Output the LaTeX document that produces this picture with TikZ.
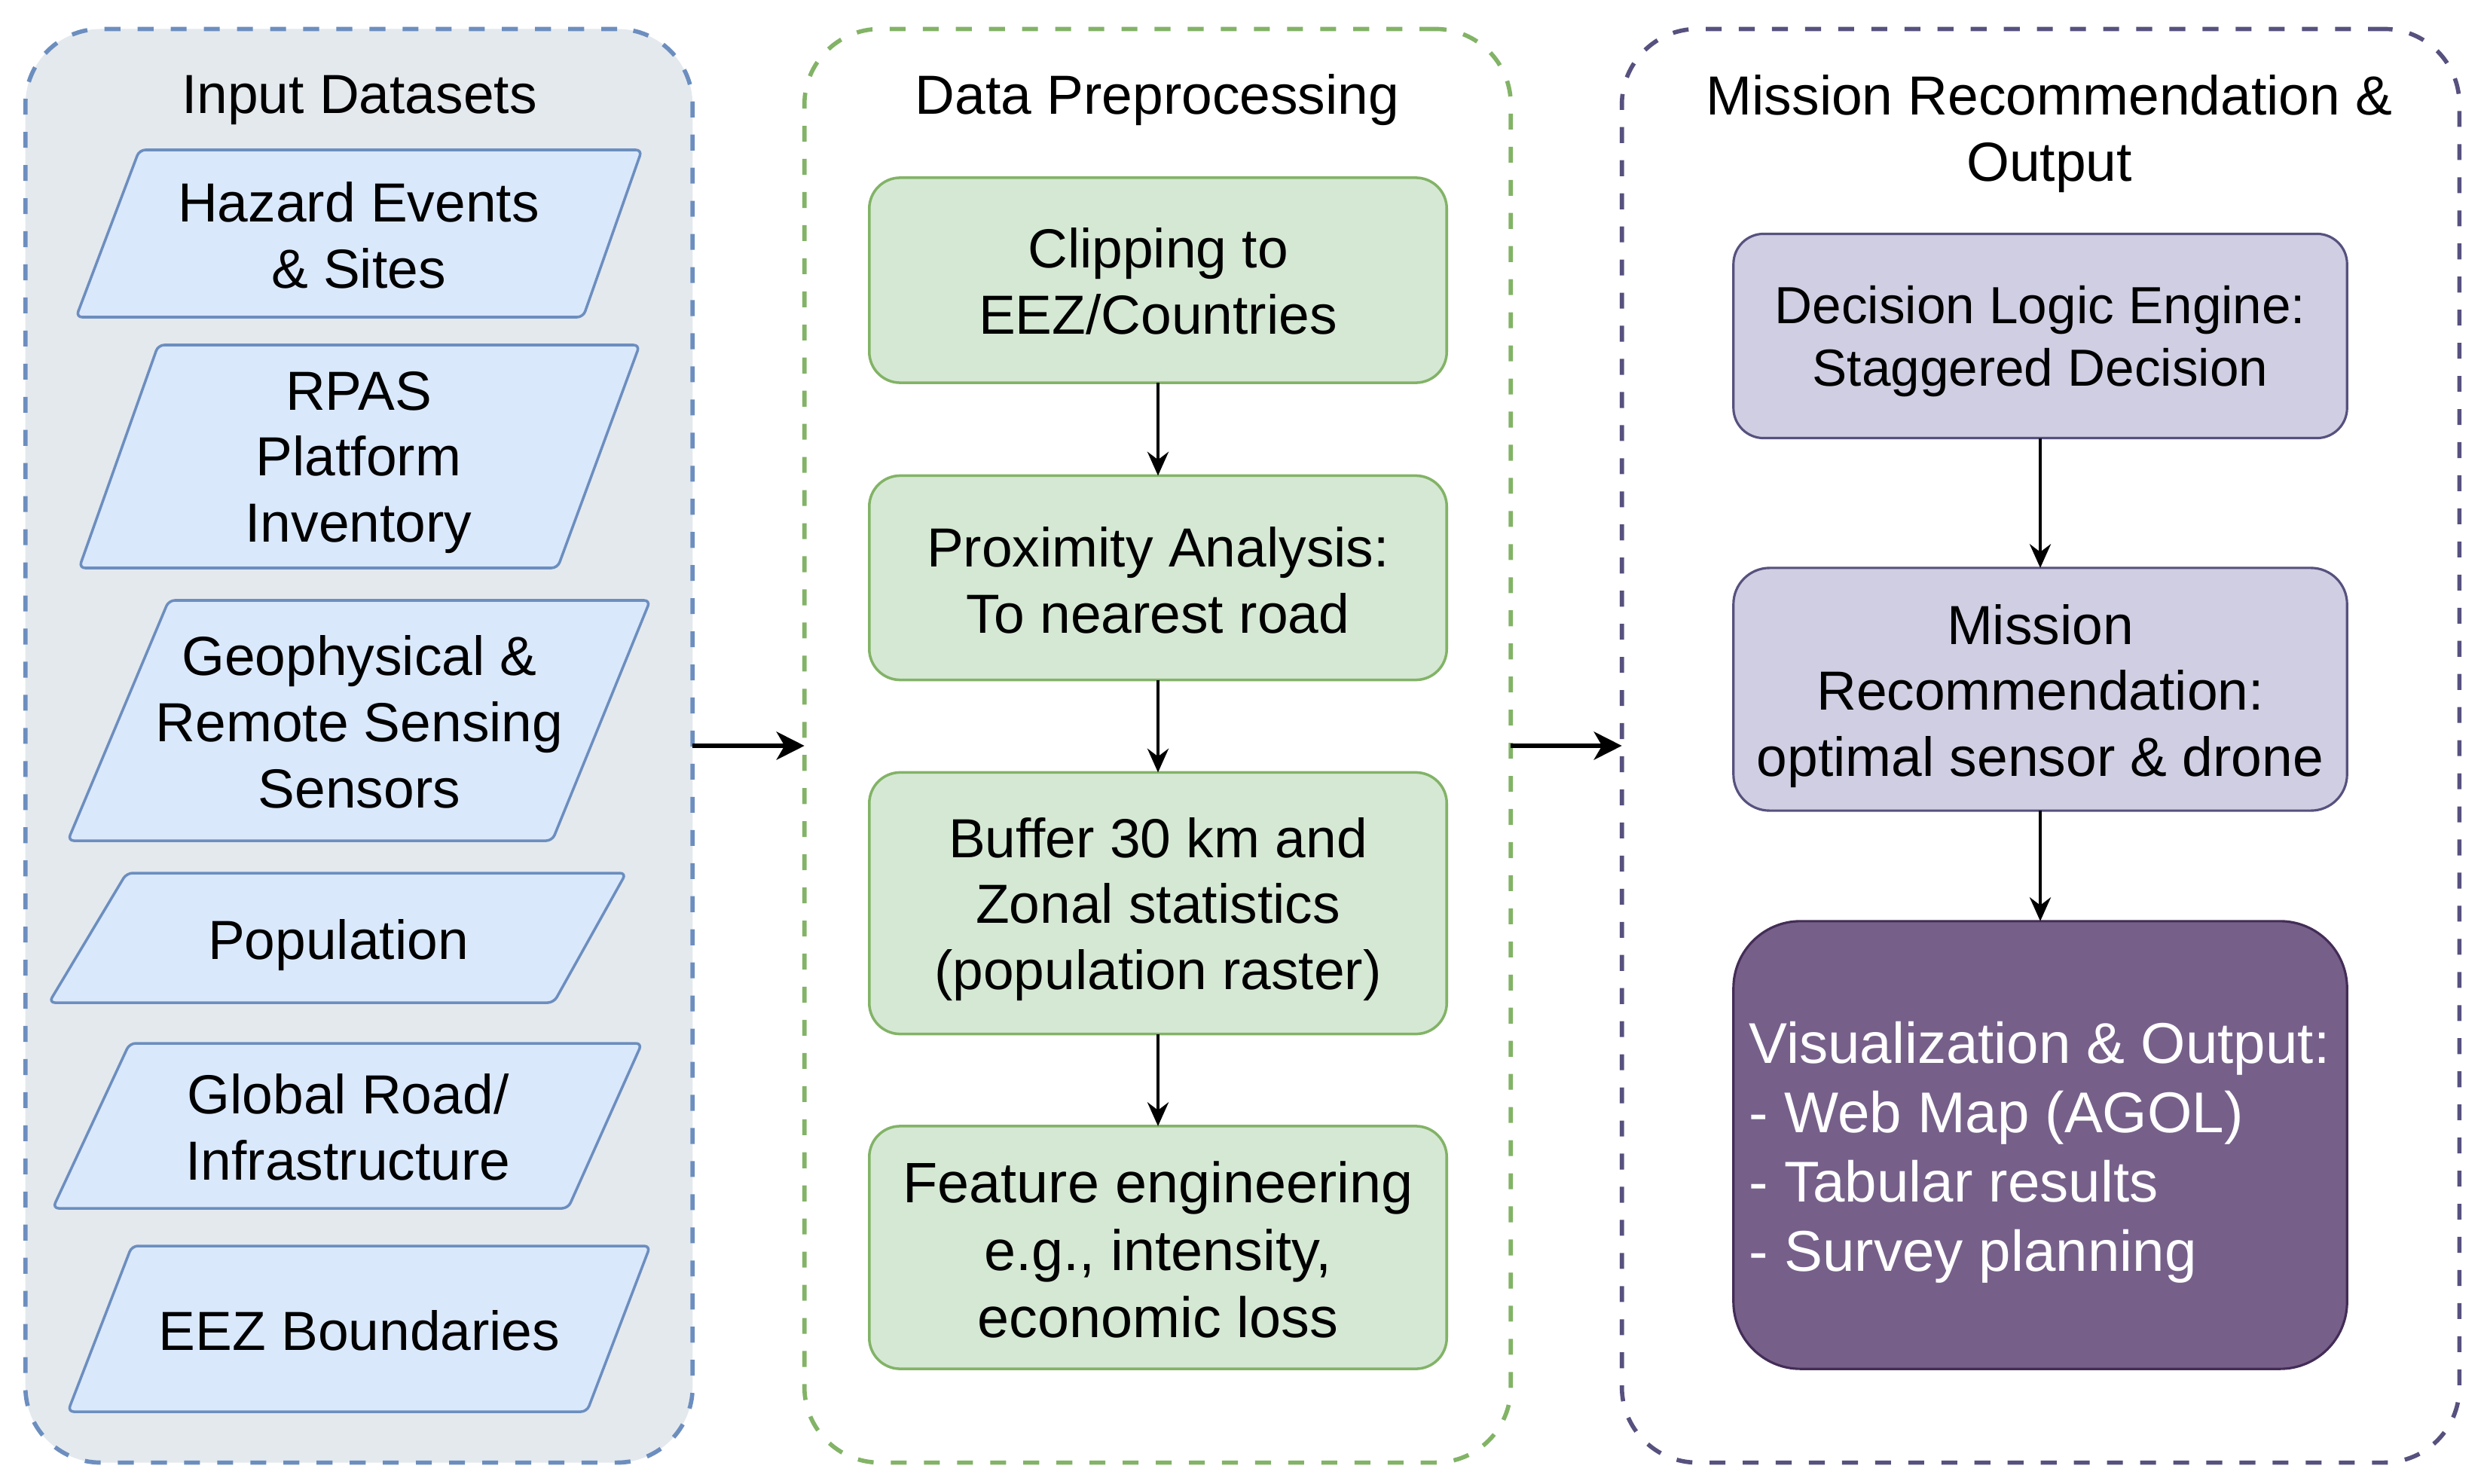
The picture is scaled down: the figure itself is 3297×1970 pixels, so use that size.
\documentclass[tikz,border=0pt]{standalone}
\usepackage{fontspec}
\setmainfont{Liberation Sans}
\usetikzlibrary{arrows.meta}
\definecolor{blueS}{HTML}{6C8EBF}
\definecolor{blueF}{HTML}{DAE8FC}
\definecolor{greyF}{HTML}{E4E9EE}
\definecolor{greenS}{HTML}{82B366}
\definecolor{greenF}{HTML}{D5E8D4}
\definecolor{purS}{HTML}{56517E}
\definecolor{purF}{HTML}{D0CEE2}
\definecolor{dpurF}{HTML}{76608A}
\definecolor{dpurS}{HTML}{432D57}
\newcommand\mainfs{\fontsize{20.8}{25}\selectfont}
\newcommand\decfs{\fontsize{19.7}{23.8}\selectfont}
\newcommand\featfs{\fontsize{21.5}{25.4}\selectfont}
\newcommand\visfs{\fontsize{21.7}{26.2}\selectfont}
\tikzset{
  cont/.style={draw, line width=1.6pt, dash pattern=on 6pt off 6.5pt, rounded corners=1cm, inner sep=0pt, outer sep=0pt},
  para/.style={draw=blueS, fill=blueF, line width=1pt, rounded corners=0.8mm},
  txt/.style={align=center, font=\mainfs, inner sep=0pt},
  gbox/.style={draw=greenS, fill=greenF, line width=1pt, rounded corners=0.41cm, minimum width=7.66cm, inner sep=0pt, outer sep=0pt},
  pbox/.style={draw=purS, fill=purF, line width=0.9pt, minimum width=8.14cm, inner sep=0pt, outer sep=0pt},
  varrow/.style={draw=black, line width=1.2pt, -{Stealth[length=9pt, width=8pt, inset=3pt]}},
  harrow/.style={draw=black, line width=1.9pt, -{Stealth[length=10.5pt, width=10.5pt, inset=3pt]}}
}
\begin{document}
\begin{tikzpicture}[x=0.01cm, y=-0.01cm]
\useasboundingbox (0,0) rectangle (3297,1970);
% containers
\node[cont, draw=blueS, fill=greyF, minimum width=8.85cm, minimum height=19.02cm] (inp) at (476.5,990) {};
\node[cont, draw=greenS, fill=white, minimum width=9.37cm, minimum height=19.02cm] (pre) at (1536.5,990) {};
\node[cont, draw=purS, fill=white, minimum width=11.11cm, minimum height=19.02cm] (mis) at (2708.5,990) {};
% titles
\node[txt] (tinp) at (477,133) {Input Datasets};
\node[txt] (tpre) at (1536,133) {Data Preprocessing};
\node[txt] (tmis) at (2720,178) {Mission Recommendation \&\\Output};
% parallelograms
\draw[para] (185,199) -- (852,199) -- (774,421) -- (101,421) -- cycle;
\node[txt] (haz) at (476,312) {Hazard Events\\\& Sites};
\draw[para] (210,458) -- (849,458) -- (740,754) -- (105,754) -- cycle;
\node[txt] (rpas) at (476,614) {RPAS\\Platform\\Inventory};
\draw[para] (224,797) -- (863,797) -- (733,1116) -- (90,1116) -- cycle;
\node[txt] (geo) at (477,958) {Geophysical \&\\Remote Sensing\\Sensors};
\draw[para] (168,1159) -- (831,1159) -- (735,1331) -- (65,1331) -- cycle;
\node[txt] (pop) at (449,1255) {Population};
\draw[para] (172,1385) -- (852,1385) -- (754,1604) -- (70,1604) -- cycle;
\node[txt] (road) at (462,1496) {Global Road/\\Infrastructure};
\draw[para] (175,1654) -- (863,1654) -- (779,1874) -- (90,1874) -- cycle;
\node[txt] (eez) at (477,1766) {EEZ Boundaries};
% preprocessing boxes
\node[gbox, minimum height=2.72cm] (clip) at (1537,372) {};
\node[txt] (cliptxt) at (1537,373) {Clipping to\\EEZ/Countries};
\node[gbox, minimum height=2.71cm] (prox) at (1537,767) {};
\node[txt] (proxtxt) at (1537,770) {Proximity Analysis:\\To nearest road};
\node[gbox, minimum height=3.47cm] (buf) at (1537,1199) {};
\node[txt] (buftxt) at (1537,1207) {Buffer 30 km and\\Zonal statistics\\(population raster)};
\node[gbox, minimum height=3.22cm] (feat) at (1537,1656) {};
\node[txt, font=\featfs] (feattxt) at (1537,1659) {Feature engineering\\e.g., intensity,\\economic loss};
% mission boxes
\node[pbox, rounded corners=0.40cm, minimum height=2.71cm] (dec) at (2708,446) {};
\node[txt, font=\decfs] (dectxt) at (2708,453) {Decision Logic Engine:\\Staggered Decision};
\node[pbox, rounded corners=0.48cm, minimum height=3.22cm] (rec) at (2708,915) {};
\node[txt] (rectxt) at (2708,924) {Mission\\Recommendation:\\optimal sensor \& drone};
\node[draw=dpurS, fill=dpurF, line width=0.9pt, rounded corners=0.89cm, minimum width=8.14cm, minimum height=5.94cm, inner sep=0pt, outer sep=0pt] (vis) at (2708,1520) {};
\node[txt, anchor=west, align=left, text=white, font=\visfs] (vistxt) at (2321,1530) {Visualization \& Output:\\- Web Map (AGOL)\\- Tabular results\\- Survey planning};
% arrows
\draw[harrow] (inp) -- (pre);
\draw[harrow] (pre) -- (mis);
\draw[varrow] (clip) -- (prox);
\draw[varrow] (prox) -- (buf);
\draw[varrow] (buf) -- (feat);
\draw[varrow] (dec) -- (rec);
\draw[varrow] (rec) -- (vis);
\end{tikzpicture}
\end{document}
